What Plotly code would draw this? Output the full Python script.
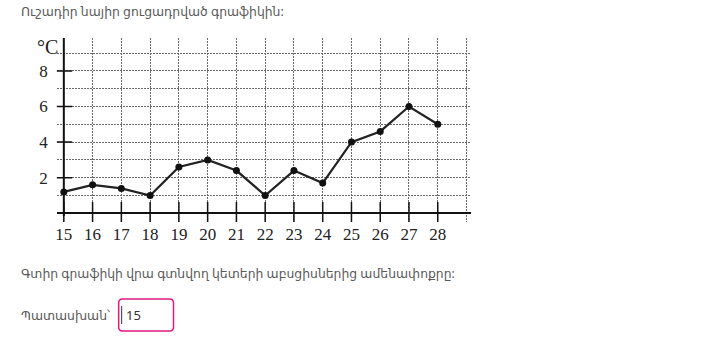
import plotly.graph_objects as go

W, H = 706, 337

days = [15, 16, 17, 18, 19, 20, 21, 22, 23, 24, 25, 26, 27, 28]
temps = [1.2, 1.6, 1.4, 1.0, 2.6, 3.0, 2.4, 1.0, 2.4, 1.7, 4.0, 4.6, 6.0, 5.0]
x_grid = list(range(15, 30))
y_grid = list(range(0, 10))
y_labels = [2, 4, 6, 8]

title_text = "Ուշադիր նայիր ցուցադրված գրաֆիկին:"
question_text = "Գտիր գրաֆիկի վրա գտնվող կետերի աբսցիսներից ամենափոքրը:"
answer_label = "Պատասխան՝"
answer_value = "15"
unit_label = "°C"


def px(x):
    return x / W


def py(y):
    return 1 - y / H


# plot area in pixels
L, R, T, B = 55, 470, 38, 222
x_per = (437 - 62) / 13.0
x0 = 15 - (62 - L) / x_per
x1 = 15 + (R - 62) / x_per
y_per = 17.8
y_zero = 213.3
ya = (y_zero - B) / y_per
yb = (y_zero - T) / y_per

serif = "Liberation Serif, Times New Roman, serif"
sans = "Noto Sans, Open Sans, DejaVu Sans, sans-serif"
txt_size = 12.4
txt_col = "#5a5a5a"

fig = go.Figure()

# tick marks crossing the axes
fig.add_trace(go.Scatter(
    x=days, y=[0] * len(days), mode="markers",
    marker=dict(symbol="line-ns", size=16, line=dict(color="#111", width=1.5)),
    hoverinfo="skip", showlegend=False))
fig.add_trace(go.Scatter(
    x=[15] * len(y_labels), y=y_labels, mode="markers",
    marker=dict(symbol="line-ew", size=12, line=dict(color="#111", width=1.5)),
    hoverinfo="skip", showlegend=False))

fig.add_trace(go.Scatter(
    x=days, y=temps, mode="lines+markers",
    line=dict(color="#222", width=2.2),
    marker=dict(color="#111", size=7),
    showlegend=False))

fig.update_layout(
    width=W, height=H,
    margin=dict(l=0, r=0, t=0, b=0),
    paper_bgcolor="white", plot_bgcolor="white",
    xaxis=dict(
        domain=[px(L), px(R)], range=[x0, x1],
        tickvals=x_grid,
        ticktext=[str(d) if d in days else "" for d in x_grid],
        showgrid=True, gridcolor="#6a6a6a", gridwidth=1, griddash="2px,1px",
        zeroline=False, showline=False, ticks="",
        tickfont=dict(family=serif, size=17, color="#222"),
    ),
    yaxis=dict(
        domain=[py(B), py(T)], range=[ya, yb],
        tickvals=y_grid,
        ticktext=[str(v) if v in y_labels else "" for v in y_grid],
        showgrid=True, gridcolor="#6a6a6a", gridwidth=1, griddash="2px,1px",
        zeroline=True, zerolinecolor="#111", zerolinewidth=2,
        showline=False, ticks="", ticklabelstandoff=8,
        tickfont=dict(family=serif, size=17, color="#222"),
    ),
    shapes=[
        dict(type="line", xref="x", yref="paper", x0=15, x1=15,
             y0=py(B - 6), y1=py(T), line=dict(color="#111", width=2)),
        dict(type="path", xref="paper", yref="paper",
             path=("M {a},{b} L {c},{b} Q {d},{b} {d},{e} L {d},{f} Q {d},{g} {c},{g} "
                   "L {a},{g} Q {h},{g} {h},{f} L {h},{e} Q {h},{b} {a},{b} Z").format(
                 a=px(121), c=px(168), d=px(172), h=px(117),
                 b=py(299), e=py(303), f=py(327), g=py(331)),
             line=dict(color="#e0197d", width=1.5), fillcolor="white"),
        dict(type="line", xref="paper", yref="paper", x0=px(120), x1=px(120),
             y0=py(306), y1=py(324), line=dict(color="#333", width=1)),
    ],
    annotations=[
        dict(text=unit_label, xref="paper", yref="paper", x=px(58), y=py(47),
             xanchor="right", yanchor="middle", showarrow=False,
             font=dict(family=serif, size=20, color="#222")),
        dict(text=title_text, xref="paper", yref="paper", x=px(17), y=py(11),
             xanchor="left", yanchor="middle", showarrow=False,
             font=dict(family=sans, size=txt_size, color=txt_col)),
        dict(text=question_text, xref="paper", yref="paper", x=px(17), y=py(273),
             xanchor="left", yanchor="middle", showarrow=False,
             font=dict(family=sans, size=txt_size, color=txt_col)),
        dict(text=answer_label, xref="paper", yref="paper", x=px(17), y=py(315),
             xanchor="left", yanchor="middle", showarrow=False,
             font=dict(family=sans, size=txt_size, color=txt_col)),
        dict(text=answer_value, xref="paper", yref="paper", x=px(122), y=py(315),
             xanchor="left", yanchor="middle", showarrow=False,
             font=dict(family=sans, size=13, color="#333")),
    ],
)

fig.write_html("out.html")
